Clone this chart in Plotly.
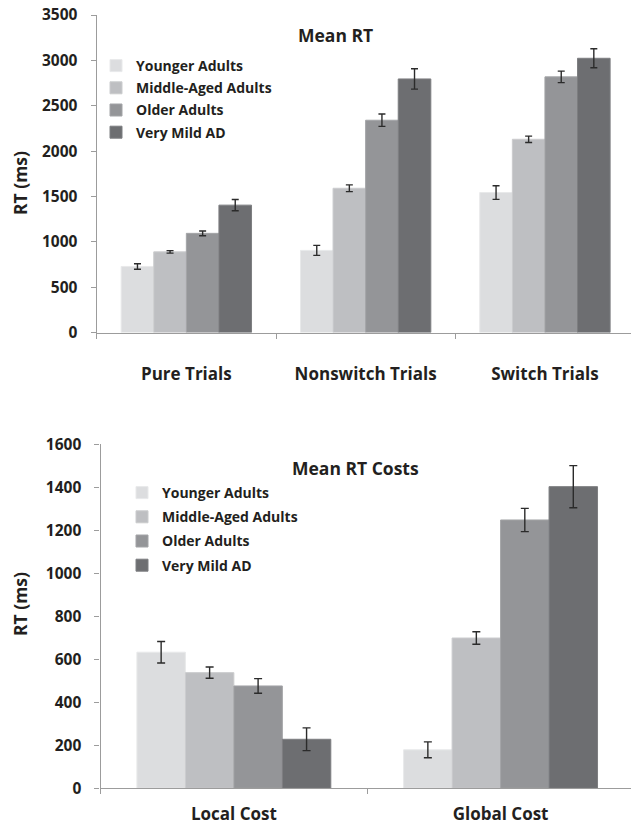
import plotly.graph_objects as go

# Mean RT by trial type
trial_types = ["Pure Trials", "Nonswitch Trials", "Switch Trials"]
# Mean RT costs
cost_types = ["Local Cost", "Global Cost"]

groups = ["Younger Adults", "Middle-Aged Adults", "Older Adults", "Very Mild AD"]
fill_colors = ["#DCDDDF", "#BEBFC2", "#949598", "#6D6E71"]
edge_colors = ["#E8E9EA", "#CBCCCE", "#A3A4A7", "#7D7E81"]

rt_younger = [728, 905, 1543]
rt_middle = [889, 1590, 2130]
rt_older = [1093, 2340, 2818]
rt_vmad = [1404, 2795, 3023]

rt_err_younger = [30, 55, 75]
rt_err_middle = [14, 37, 35]
rt_err_older = [26, 68, 63]
rt_err_vmad = [62, 112, 105]

cost_younger = [633, 179]
cost_middle = [538, 699]
cost_older = [476, 1248]
cost_vmad = [228, 1403]

cost_err_younger = [50, 37]
cost_err_middle = [26, 29]
cost_err_older = [34, 54]
cost_err_vmad = [53, 98]

rt_ticks = [0, 500, 1000, 1500, 2000, 2500, 3000, 3500]
cost_ticks = [0, 200, 400, 600, 800, 1000, 1200, 1400, 1600]

FONT = "Open Sans"
TEXT = "#231F20"
AXIS = "#9C9C9C"

rt_series = [rt_younger, rt_middle, rt_older, rt_vmad]
rt_errs = [rt_err_younger, rt_err_middle, rt_err_older, rt_err_vmad]
cost_series = [cost_younger, cost_middle, cost_older, cost_vmad]
cost_errs = [cost_err_younger, cost_err_middle, cost_err_older, cost_err_vmad]

fig = go.Figure()

for i, name in enumerate(groups):
    fig.add_trace(go.Bar(
        x=trial_types, y=rt_series[i], name=name,
        marker=dict(color=fill_colors[i], line=dict(color=edge_colors[i], width=1)),
        error_y=dict(type="data", array=rt_errs[i], color="#2B2B2B",
                     thickness=1.4, width=3.5),
        xaxis="x", yaxis="y", legend="legend", legendgroup="a%d" % i,
    ))

for i, name in enumerate(groups):
    fig.add_trace(go.Bar(
        x=cost_types, y=cost_series[i], name=name,
        marker=dict(color=fill_colors[i], line=dict(color=edge_colors[i], width=1)),
        error_y=dict(type="data", array=cost_errs[i], color="#2B2B2B",
                     thickness=1.4, width=4),
        xaxis="x2", yaxis="y2", legend="legend2", legendgroup="b%d" % i,
    ))

W, H = 631, 826


def px_x(v):
    return v / W


def px_y(v):
    return 1 - v / H


axis_common = dict(
    showline=True, linecolor=AXIS, linewidth=1.3,
    ticks="outside", ticklen=5, tickcolor=AXIS, tickwidth=1.3,
    showgrid=False, zeroline=False, automargin=False,
)

cat_font = dict(family=FONT, size=17, color=TEXT, weight="bold")
num_font = dict(family=FONT, size=15.5, color=TEXT, weight="bold")
leg_font = dict(family=FONT, size=14, color=TEXT, weight="bold")
head_font = dict(family=FONT, size=17.5, color=TEXT, weight="bold")


def label(text, x, y, angle=0):
    return dict(text=text, x=px_x(x), y=px_y(y), xref="paper", yref="paper",
                xanchor="center", yanchor="middle", textangle=angle,
                showarrow=False, font=head_font)


fig.update_layout(
    width=W, height=H,
    margin=dict(l=0, r=0, t=0, b=0, autoexpand=False),
    paper_bgcolor="white", plot_bgcolor="white",
    barmode="group", bargap=0.273, bargroupgap=0,
    font=dict(family=FONT, color=TEXT),
    xaxis=dict(
        **axis_common, domain=[px_x(96.7), 1], anchor="y",
        type="category", tickson="boundaries", range=[-0.5, 2.48],
        tickfont=cat_font, ticklabelstandoff=26,
    ),
    yaxis=dict(
        **axis_common, domain=[px_y(332.5), px_y(15)], anchor="x",
        range=[0, 3500], tickvals=rt_ticks,
        tickfont=num_font, ticklabelstandoff=10,
    ),
    xaxis2=dict(
        **axis_common, domain=[px_x(100.5), 1], anchor="y2",
        type="category", tickson="boundaries", range=[-0.5, 1.489],
        tickfont=cat_font, ticklabelstandoff=10,
    ),
    yaxis2=dict(
        **axis_common, domain=[px_y(788.3), px_y(444.3)], anchor="x2",
        range=[0, 1600], tickvals=cost_ticks,
        tickfont=num_font, ticklabelstandoff=10,
    ),
    legend=dict(
        x=px_x(96), y=px_y(50), xanchor="left", yanchor="top",
        bgcolor="rgba(0,0,0,0)", tracegroupgap=1, font=leg_font,
    ),
    legend2=dict(
        x=px_x(122), y=px_y(477), xanchor="left", yanchor="top",
        bgcolor="rgba(0,0,0,0)", tracegroupgap=3, font=leg_font,
    ),
    annotations=[
        label("Mean RT", 335, 35),
        label("Mean RT Costs", 356, 468),
        label("RT (ms)", 20, 183, -90),
        label("RT (ms)", 20, 604, -90),
    ],
)

fig.write_html("out.html")
